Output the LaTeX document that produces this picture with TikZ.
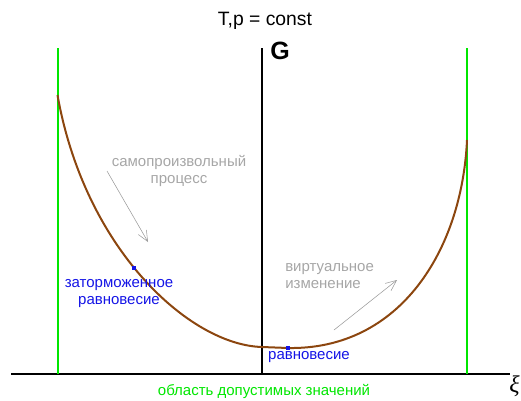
\documentclass[tikz,border=0pt]{standalone}
\usepackage{fontspec}
\setmainfont{Liberation Sans}
\newfontfamily\xifont{Liberation Serif}
\usepackage{xcolor}
\usetikzlibrary{arrows.meta}

\definecolor{curvebrown}{RGB}{140,70,15}
\definecolor{limegreen}{RGB}{0,230,0}
\definecolor{dotblue}{RGB}{20,20,230}

\begin{document}
\begin{tikzpicture}[
  x=0.75pt, y=-0.75pt,
  ax/.style={line width=1.1pt, black},
  bound/.style={line width=1.5pt, limegreen},
  gibbs/.style={line width=1.5pt, curvebrown},
  pt/.style={rectangle, fill=dotblue, inner sep=0pt, minimum size=3pt},
  hint/.style={-{Straight Barb[length=8pt,width=7pt]}, line width=0.4pt, gray!80},
  gtxt/.style={font=\fontsize{11.25}{12.75}\selectfont, text=gray!70, align=center, inner sep=0pt},
  btxt/.style={font=\fontsize{11.25}{12.75}\selectfont, text=dotblue, align=center, inner sep=0pt},
]
  \useasboundingbox (0,0) rectangle (521,400);

  % Axes
  \coordinate (xl) at (11,374);
  \coordinate (xr) at (510,374);
  \coordinate (o) at (262,374);
  \coordinate (yt) at (262,48);
  \draw[ax] (xl) -- (xr);
  \draw[ax] (o) -- (yt);
  \node[font=\bfseries\fontsize{18.75}{20}\selectfont, inner sep=0pt] (glab) at (280,51) {G};
  \node[font=\xifont\itshape\fontsize{18}{20}\selectfont, inner sep=0pt, anchor=east] (xilab) at (520,386) {ξ};
  \node[font=\fontsize{14.5}{16}\selectfont, inner sep=0pt] (title) at (265,21) {T,p = const};

  % Admissible range
  \coordinate (lb) at (58,374);
  \coordinate (lt) at (58,48);
  \coordinate (rb) at (467,374);
  \coordinate (rt) at (467,48);
  \draw[bound] (lb) -- (lt);
  \draw[bound] (rb) -- (rt);
  \node[font=\fontsize{11.25}{12.75}\selectfont, text=limegreen, inner sep=0pt] (range) at (264,391) {область допустимых значений};

  % Gibbs energy curve
  \draw[gibbs] (57.5,95) .. controls (85,250) and (190,345) .. (262,347)
    -- (288,348) .. controls (400,350) and (462,250) .. (467,140);

  % Equilibrium points
  \node[pt] (frozen) at (134,268) {};
  \node[pt] (equil) at (288,348) {};
  \node[btxt] (frozenlab) at (119,294) {заторможенное\\равновесие};
  \node[btxt] (equillab) at (309,357) {равновесие};

  % Spontaneous process
  \node[gtxt] (spont) at (179,171) {самопроизвольный\\процесс};
  \coordinate (s0) at (107,171);
  \coordinate (s1) at (148,242);
  \draw[hint] (s0) -- (s1);

  % Virtual change
  \node[gtxt, align=left, anchor=west] (virt) at (285,276) {виртуальное\\изменение};
  \coordinate (v0) at (334,330);
  \coordinate (v1) at (397,280);
  \draw[hint] (v0) -- (v1);
\end{tikzpicture}
\end{document}
